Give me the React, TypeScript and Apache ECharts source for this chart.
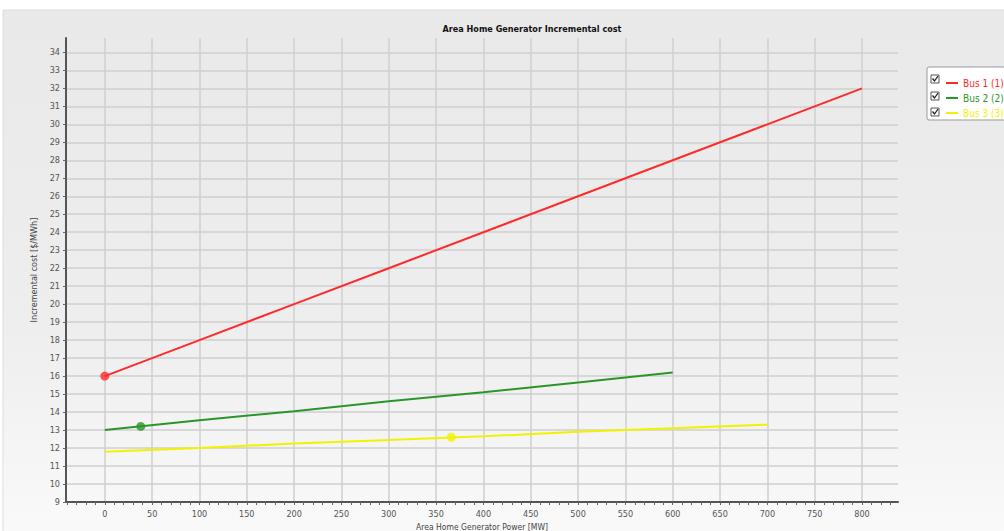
import React, { useEffect, useRef } from "react";
import * as echarts from "echarts";

const titleText = "Area Home Generator Incremental cost";
const xAxisName = "Area Home Generator Power [MW]";
const yAxisName = "Incremental cost [$/MWh]";

const seriesNames = ["Bus 1 (1) #1", "Bus 2 (2) #1", "Bus 3 (3) #1"];
const seriesColors = ["#ff2a2a", "#2a962a", "#f2f200"];

const bus1X = [0, 100, 200, 300, 400, 500, 600, 700, 800];
const bus1Y = [16, 18, 20, 22, 24, 26, 28, 30, 32];
const bus2X = [0, 100, 200, 300, 400, 500, 600];
const bus2Y = [13.0, 13.55, 14.05, 14.6, 15.1, 15.65, 16.2];
const bus3X = [0, 100, 200, 300, 400, 500, 600, 700];
const bus3Y = [11.8, 12.0, 12.25, 12.45, 12.65, 12.9, 13.1, 13.3];

const markerPoints = [
  [0, 16],
  [38, 13.2],
  [366, 12.6],
];

const xLabelValues = [0, 50, 100, 150, 200, 250, 300, 350, 400, 450, 500, 550, 600, 650, 700, 750, 800];
const xMinorTickValues = [
  -40, -30, -20, -10, 0, 10, 20, 30, 40, 50, 60, 70, 80, 90, 100, 110, 120, 130, 140, 150, 160, 170, 180, 190,
  200, 210, 220, 230, 240, 250, 260, 270, 280, 290, 300, 310, 320, 330, 340, 350, 360, 370, 380, 390, 400,
  410, 420, 430, 440, 450, 460, 470, 480, 490, 500, 510, 520, 530, 540, 550, 560, 570, 580, 590, 600, 610,
  620, 630, 640, 650, 660, 670, 680, 690, 700, 710, 720, 730, 740, 750, 760, 770, 780, 790, 800, 810, 820, 830,
];

const FONT = "'DejaVu Sans Condensed', 'Liberation Sans Narrow', sans-serif";

function zip(xs: number[], ys: number[]) {
  return xs.map((x, i) => [x, ys[i]]);
}

export default function App() {
  const ref = useRef<HTMLDivElement>(null);

  useEffect(() => {
    if (!ref.current) return;
    const chart = echarts.init(ref.current, undefined, { renderer: "svg" });
    const lineData = [zip(bus1X, bus1Y), zip(bus2X, bus2Y), zip(bus3X, bus3Y)];

    const checkbox = (y: number) => [
      {
        type: "rect",
        shape: { x: 931, y: y - 4, width: 8, height: 8 },
        style: { fill: "#ffffff", stroke: "#555555", lineWidth: 1 },
        z: 20,
      },
      {
        type: "polyline",
        shape: { points: [[932.5, y - 0.5], [934.5, y + 2], [938, y - 3]] },
        style: { stroke: "#222222", lineWidth: 1.3, fill: null },
        z: 21,
      },
    ];

    chart.setOption({
      animation: false,
      backgroundColor: "#ffffff",
      graphic: [
        {
          type: "rect",
          shape: { x: 3, y: 10, width: 1010, height: 530 },
          style: {
            fill: new echarts.graphic.LinearGradient(0, 0, 0, 1, [
              { offset: 0, color: "#e9e9e9" },
              { offset: 0.6, color: "#eeeeee" },
              { offset: 1, color: "#fafafa" },
            ]),
            stroke: "#dddddd",
          },
          z: -10,
          silent: true,
        },
        {
          type: "rect",
          shape: { x: 927, y: 67, width: 90, height: 53, r: 2 },
          style: { fill: "#ffffff", stroke: "#999999", lineWidth: 1 },
          z: 10,
        },
        ...checkbox(79),
        ...checkbox(96),
        ...checkbox(112),
      ],
      title: {
        text: titleText,
        left: 527,
        top: 19,
        textAlign: "center",
        textStyle: { fontFamily: FONT, fontSize: 9, fontWeight: "bold", color: "#111111" },
      },
      legend: {
        orient: "vertical",
        left: 941,
        top: 73,
        itemGap: 5,
        itemWidth: 12,
        itemHeight: 2,
        icon: "rect",
        z: 15,
        data: seriesNames.map((n, i) => ({
          name: n,
          textStyle: { color: seriesColors[i], fontFamily: FONT, fontSize: 10 },
        })),
        selectedMode: false,
      },
      grid: { left: 66, top: 38, right: 106, bottom: 29, containLabel: false, outerBoundsMode: "none" },
      xAxis: [
        {
          type: "value",
          min: -41,
          max: 838,
          name: xAxisName,
          nameLocation: "middle",
          nameGap: 18,
          nameTextStyle: { fontFamily: FONT, fontSize: 8.5, color: "#444444" },
          axisLine: { show: true, onZero: false, lineStyle: { color: "#555555", width: 2 } },
          axisTick: { show: false, customValues: xLabelValues },
          axisLabel: {
            customValues: xLabelValues,
            fontFamily: FONT,
            fontSize: 9,
            color: "#555555",
            margin: 7,
          },
          splitLine: { show: true, lineStyle: { color: "#cfcfcf", width: 1.5 } },
        },
        {
          type: "value",
          min: -41,
          max: 838,
          position: "bottom",
          axisLine: { show: false, onZero: false },
          axisTick: { show: true, customValues: xMinorTickValues, length: 3, lineStyle: { color: "#666666" } },
          axisLabel: { show: false },
          splitLine: { show: false },
        },
      ],
      yAxis: {
        type: "value",
        min: 9,
        max: 34.8,
        interval: 1,
        name: yAxisName,
        nameLocation: "middle",
        nameGap: 28,
        nameTextStyle: { fontFamily: FONT, fontSize: 9, color: "#444444" },
        axisLine: { show: true, onZero: false, lineStyle: { color: "#555555", width: 2 } },
        axisTick: { show: true, length: 3, lineStyle: { color: "#666666" } },
        axisLabel: { fontFamily: FONT, fontSize: 9, color: "#555555", margin: 6, showMaxLabel: false },
        splitLine: { show: true, showMaxLine: false, lineStyle: { color: "#cfcfcf", width: 1.5 } },
      },
      series: [
        ...seriesNames.map((n, i) => ({
          name: n,
          type: "line",
          data: lineData[i],
          showSymbol: false,
          symbol: "none",
          color: seriesColors[i],
          lineStyle: { color: seriesColors[i], width: 2 },
          z: 5,
        })),
        ...markerPoints.map((p, i) => ({
          name: seriesNames[i] + " op",
          type: "scatter",
          data: [p],
          symbol: "circle",
          symbolSize: 9,
          itemStyle: { color: seriesColors[i] },
          z: 6,
        })),
      ],
    });
    return () => chart.dispose();
  }, []);

  return <div ref={ref} style={{ position: "fixed", left: 0, top: 0, width: 1004, height: 531 }} />;
}
